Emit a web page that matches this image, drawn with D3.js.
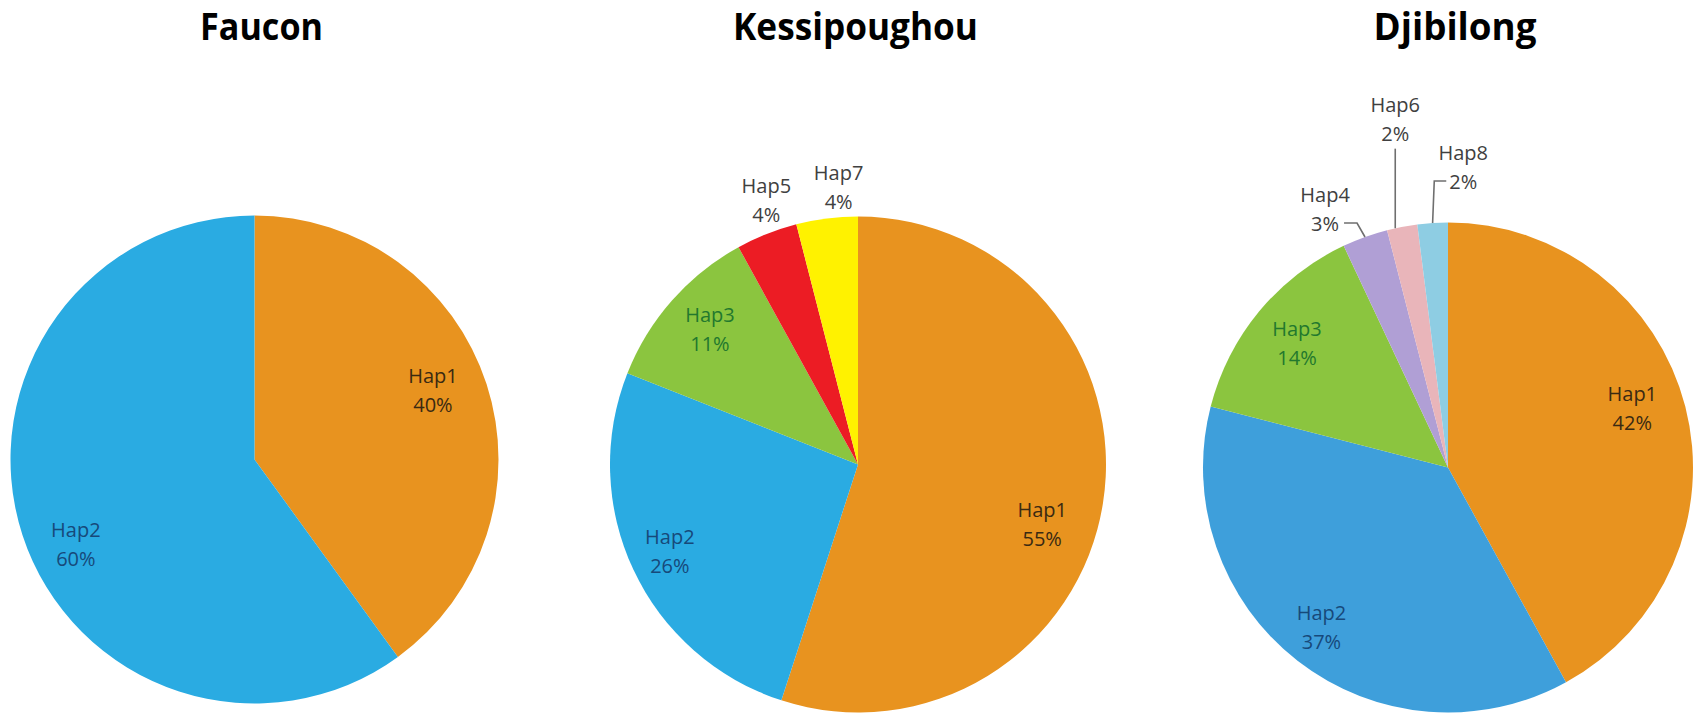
<!DOCTYPE html>
<html>
<head>
<meta charset="utf-8">
<script src="https://cdn.jsdelivr.net/npm/d3@7"></script>
<style>
  html, body { margin: 0; padding: 0; background: #ffffff; }
  svg { display: block; }
</style>
</head>
<body>
<svg id="chart" width="1697" height="715"></svg>
<script>
// ---- data ----
const chartTitles = ["Faucon", "Kessipoughou", "Djibilong"];

const fauconCategories = ["Hap1", "Hap2"];
const fauconValues = [40, 60];

const kessipoughouCategories = ["Hap1", "Hap2", "Hap3", "Hap5", "Hap7"];
const kessipoughouValues = [55, 26, 11, 4, 4];

const djibilongCategories = ["Hap1", "Hap2", "Hap3", "Hap4", "Hap6", "Hap8"];
const djibilongValues = [42, 37, 14, 3, 2, 2];

// ---- styles / layout (kept separate from data) ----
const sliceColors = {
  Faucon:       { Hap1: "#E8931F", Hap2: "#2AABE2" },
  Kessipoughou: { Hap1: "#E8931F", Hap2: "#2AABE2", Hap3: "#8BC53F", Hap5: "#EC1C24", Hap7: "#FFF200" },
  Djibilong:    { Hap1: "#E8931F", Hap2: "#3E9FDB", Hap3: "#8BC53F", Hap4: "#B09FD5", Hap6: "#E9B5BA", Hap8: "#8ECDE3" }
};
const labelColors = { Hap1: "#3a2a12", Hap2: "#17497a", Hap3: "#22782e", outside: "#404040" };

const layout = {
  Faucon:       { cx: 254.5, cy: 459.5, r: 244, titleX: 261.5, titleLen: 123 },
  Kessipoughou: { cx: 858,   cy: 464.5, r: 248, titleX: 855.5, titleLen: 245 },
  Djibilong:    { cx: 1448,  cy: 467.5, r: 245, titleX: 1455,  titleLen: 163 }
};
// label placement: k = radius factor, da = angular shift (deg), out = outside label, leader = draw leader line
const labelPlace = {
  Faucon:       { Hap1: { k: 0.785, da: -3.3 }, Hap2: { k: 0.81, da: -7.3 } },
  Kessipoughou: { Hap1: { k: 0.78, da: 8.8 }, Hap2: { k: 0.835, da: 0.5 }, Hap3: { k: 0.81, da: 1.1 },
                  Hap5: { k: 1.13, da: 2.5, out: true }, Hap7: { k: 1.12, da: 3.2, out: true } },
  Djibilong:    { Hap1: { k: 0.79, da: -3.4 }, Hap2: { k: 0.83, da: 0.7 }, Hap3: { k: 0.8, da: 0 },
                  Hap4: { k: 1.17, da: -5.6, out: true, leader: true },
                  Hap6: { k: 1.44, da: 2.2, out: true, leader: true },
                  Hap8: { k: 1.23, da: 6.5, out: true, leader: true } }
};

const datasets = {
  Faucon: { cats: fauconCategories, vals: fauconValues },
  Kessipoughou: { cats: kessipoughouCategories, vals: kessipoughouValues },
  Djibilong: { cats: djibilongCategories, vals: djibilongValues }
};

const svg = d3.select("#chart");
const labelFont = "'Open Sans', 'Noto Sans', 'DejaVu Sans', sans-serif";
const lineGap = 29;

chartTitles.forEach(name => {
  const L = layout[name];
  const ds = datasets[name];
  const rows = ds.cats.map((c, i) => ({ cat: c, val: ds.vals[i] }));
  const total = d3.sum(rows, d => d.val);

  // title
  svg.append("text")
    .attr("x", L.titleX).attr("y", 40)
    .attr("text-anchor", "middle")
    .attr("font-family", labelFont)
    .attr("font-weight", "bold")
    .attr("font-size", 37)
    .attr("textLength", L.titleLen)
    .attr("lengthAdjust", "spacingAndGlyphs")
    .attr("fill", "#000")
    .text(name);

  const pie = d3.pie().value(d => d.val).sort(null).startAngle(0).endAngle(2 * Math.PI);
  const arcs = pie(rows);
  const arc = d3.arc().innerRadius(0).outerRadius(L.r);

  const g = svg.append("g").attr("transform", `translate(${L.cx},${L.cy})`);
  g.selectAll("path.slice").data(arcs).enter().append("path")
    .attr("class", "slice")
    .attr("d", arc)
    .attr("fill", d => sliceColors[name][d.data.cat])
    .attr("stroke", "none");

  arcs.forEach(a => {
    const P = labelPlace[name][a.data.cat];
    const mid = (a.startAngle + a.endAngle) / 2 + P.da * Math.PI / 180;
    const R = L.r * P.k;
    const lx = R * Math.sin(mid), ly = -R * Math.cos(mid);
    const color = P.out ? labelColors.outside : labelColors[a.data.cat];
    const pct = Math.round(a.data.val / total * 100) + "%";

    const t1 = g.append("text")
      .attr("x", lx).attr("y", ly - lineGap / 2)
      .attr("text-anchor", "middle").attr("dominant-baseline", "central")
      .attr("font-family", labelFont).attr("font-size", 20).attr("fill", color)
      .text(a.data.cat);
    const t2 = g.append("text")
      .attr("x", lx).attr("y", ly + lineGap / 2)
      .attr("text-anchor", "middle").attr("dominant-baseline", "central")
      .attr("font-family", labelFont).attr("font-size", 20).attr("fill", color)
      .text(pct);

    if (P.leader) {
      const midTrue = (a.startAngle + a.endAngle) / 2;
      const ex = L.r * Math.sin(midTrue), ey = -L.r * Math.cos(midTrue);
      const b1 = t1.node().getBBox();
      const b2 = t2.node().getBBox();
      const left = Math.min(b1.x, b2.x), right = Math.max(b1.x + b1.width, b2.x + b2.width);
      let pts;
      if (ex >= left && ex <= right) {
        const x = lx;
        const yRim = -Math.sqrt(L.r * L.r - x * x);
        pts = [[x, b2.y + b2.height + 2], [x, yRim]];
      } else if (ex > right) {
        const y = ly + lineGap / 2;
        const sx = b2.x + b2.width + 5;
        pts = [[sx, y], [sx + 13, y], [ex, ey]];
      } else {
        const y = ly + lineGap / 2;
        const sx = b2.x - 3;
        pts = [[sx, y], [sx - 12, y], [ex, ey]];
      }
      g.append("path")
        .attr("d", d3.line()(pts))
        .attr("fill", "none")
        .attr("stroke", "#6f6f6f")
        .attr("stroke-width", 1.6);
    }
  });
});
</script>
</body>
</html>
